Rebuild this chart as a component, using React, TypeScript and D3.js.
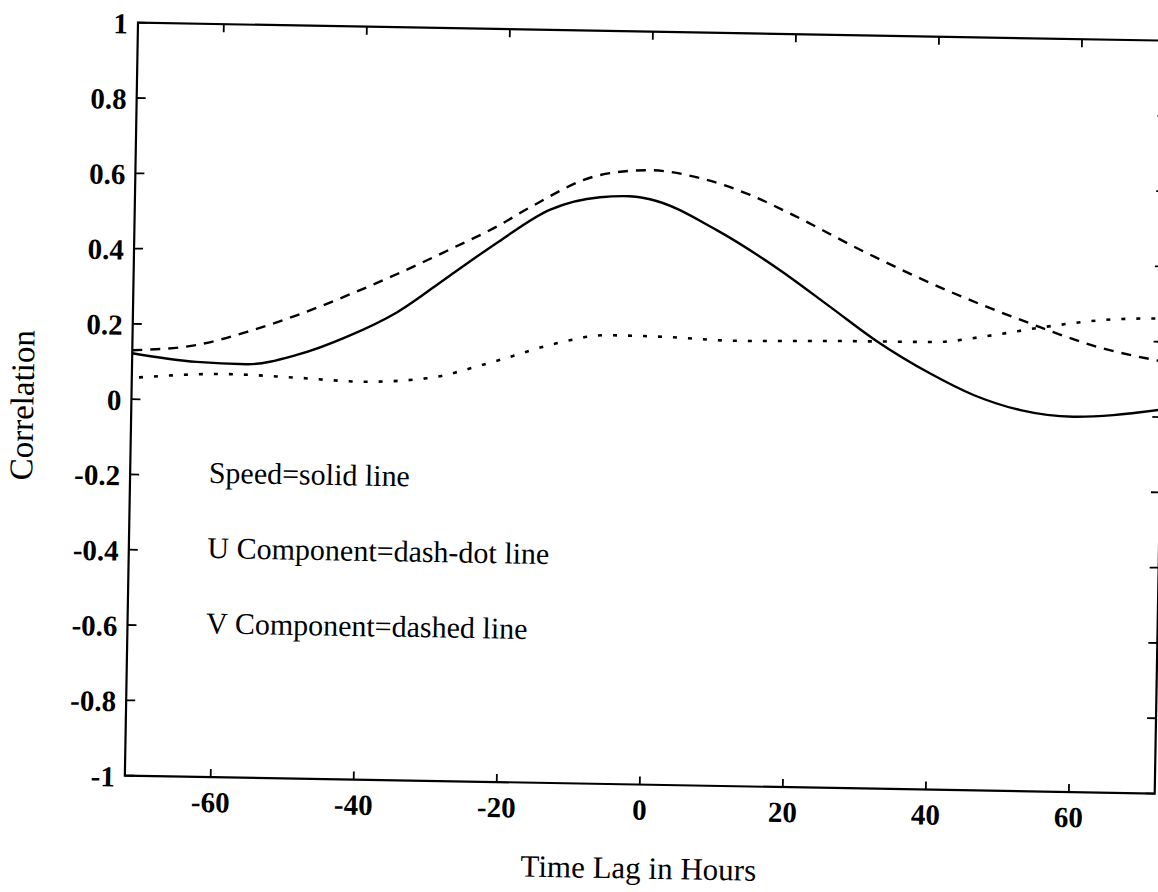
import React from "react";
import * as d3 from "d3";

// Speed (solid line)
const speedLag = [-72, -63, -56, -49, -42, -35, -28, -21, -14, -7, -3, 0, 9.4, 18.3, 25.4, 32, 39.6, 45.7, 52.3, 59.7, 65.3, 72];
const speedCorr = [0.122, 0.102, 0.098, 0.125, 0.176, 0.244, 0.34, 0.436, 0.522, 0.558, 0.562, 0.555, 0.476, 0.373, 0.278, 0.189, 0.105, 0.05, 0.012, -0.003, 0.003, 0.02];

// U component (dotted)
const uLag = [-71, -58.7, -49.4, -40, -30.8, -21.5, -12.7, -5.7, 2.7, 12, 26, 40, 48.3, 54.8, 65.5, 72];
const uCorr = [0.058, 0.071, 0.065, 0.057, 0.069, 0.116, 0.168, 0.192, 0.19, 0.183, 0.187, 0.189, 0.21, 0.232, 0.258, 0.262];

// V component (dashed)
const vLag = [-72, -63, -56, -49, -42, -35, -28, -21, -17, -7, 0, 7, 14, 20, 30, 41.7, 53.4, 62.8, 72];
const vCorr = [0.13, 0.147, 0.184, 0.231, 0.286, 0.346, 0.411, 0.479, 0.525, 0.617, 0.632, 0.613, 0.571, 0.52, 0.426, 0.327, 0.243, 0.184, 0.148];

const xTicks = [-60, -40, -20, 0, 20, 40, 60];
const yTicks = [1, 0.8, 0.6, 0.4, 0.2, 0, -0.2, -0.4, -0.6, -0.8, -1];
const yTickLabels = ["1", "0.8", "0.6", "0.4", "0.2", "0", "-0.2", "-0.4", "-0.6", "-0.8", "-1"];

const legendLines = ["Speed=solid line", "U Component=dash-dot line", "V Component=dashed line"];
const legendLevels = [-0.2, -0.4, -0.6];

export default function App() {
  const left = 138;
  const top = 22.7;
  const W = 1030;
  const H = 753;
  const x = d3.scaleLinear().domain([-72, 72]).range([0, W]);
  const y = d3.scaleLinear().domain([-1, 1]).range([H, 0]);

  const line = d3
    .line<[number, number]>()
    .x((d) => x(d[0]))
    .y((d) => y(d[1]))
    .curve(d3.curveMonotoneX);

  const zip = (a: number[], b: number[]) => a.map((v, i) => [v, b[i]] as [number, number]);

  const font = "'Liberation Serif', 'Times New Roman', serif";

  return (
    <svg
      width={1158}
      height={892}
      style={{ position: "absolute", left: 0, top: 0, background: "#fff" }}
    >
      <rect width={1158} height={892} fill="#fff" />
      <g transform={`rotate(1, ${left}, ${top})`}>
        <g transform={`translate(${left}, ${top})`} fontFamily={font} fill="#000">
          {/* frame */}
          <rect x={0} y={0} width={W} height={H} fill="none" stroke="#000" strokeWidth={2.2} />
          {/* ticks */}
          {xTicks.map((t) => (
            <g key={"xt" + t}>
              <line x1={x(t)} x2={x(t)} y1={H} y2={H - 8} stroke="#000" strokeWidth={1.8} />
              <line x1={x(t)} x2={x(t)} y1={0} y2={8} stroke="#000" strokeWidth={1.8} />
              <text x={x(t)} y={H + 35} textAnchor="middle" fontSize={29} fontWeight="bold">
                {t}
              </text>
            </g>
          ))}
          {yTicks.map((t, i) => (
            <g key={"yt" + t}>
              <line x1={0} x2={9} y1={y(t)} y2={y(t)} stroke="#000" strokeWidth={1.8} />
              <line x1={W} x2={W - 9} y1={y(t)} y2={y(t)} stroke="#000" strokeWidth={1.8} />
              <text
                x={-10}
                y={y(t) + 1}
                textAnchor="end"
                dominantBaseline="central"
                fontSize={29}
                fontWeight="bold"
              >
                {yTickLabels[i]}
              </text>
            </g>
          ))}
          {/* data lines */}
          <path d={line(zip(speedLag, speedCorr)) || ""} fill="none" stroke="#000" strokeWidth={2.4} />
          <path
            d={line(zip(vLag, vCorr)) || ""}
            fill="none"
            stroke="#000"
            strokeWidth={2.4}
            strokeDasharray="10,8"
          />
          <path
            d={line(zip(uLag, uCorr)) || ""}
            fill="none"
            stroke="#000"
            strokeWidth={2.6}
            strokeDasharray="4,11"
          />
          {/* legend text */}
          {legendLines.map((s, i) => (
            <text key={s} x={x(-61)} y={y(legendLevels[i]) + 7} fontSize={30}>
              {s}
            </text>
          ))}
          {/* axis labels */}
          <text x={x(0)} y={H + 94} textAnchor="middle" fontSize={31}>
            Time Lag in Hours
          </text>
          <text
            transform={`translate(-98, ${H / 2 + 8}) rotate(-90)`}
            textAnchor="middle"
            fontSize={33}
          >
            Correlation
          </text>
        </g>
      </g>
    </svg>
  );
}
